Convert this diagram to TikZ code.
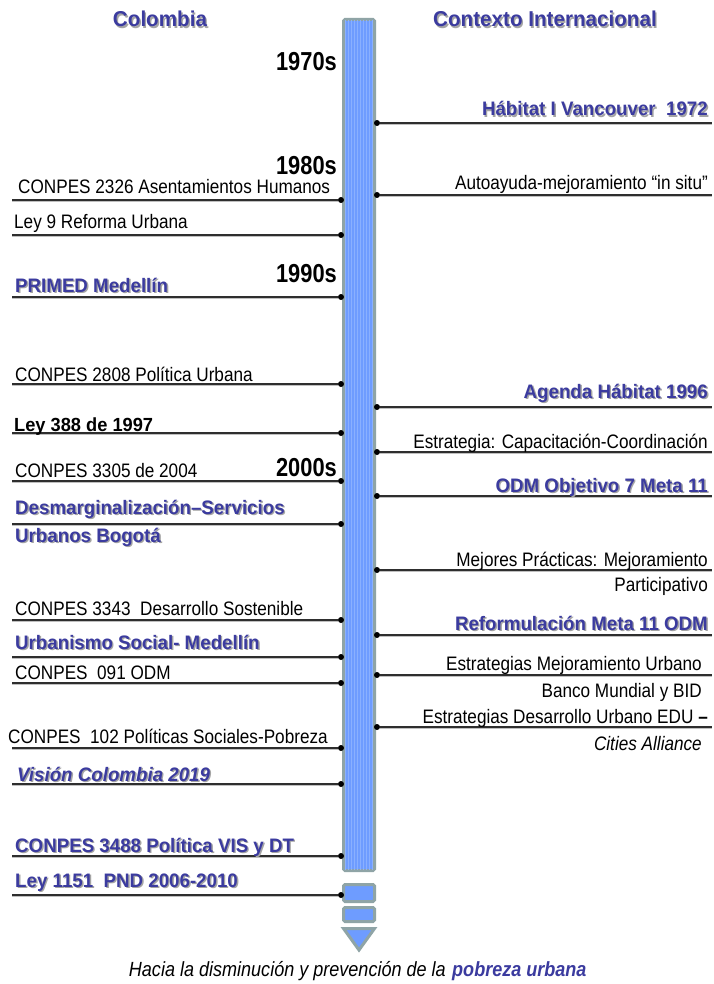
\documentclass[tikz,border=0pt]{standalone}
\usepackage{fontspec}
\setmainfont{Liberation Sans}[FakeStretch=0.88]
\newfontfamily\headfont{Liberation Sans}[FakeStretch=0.96]
\newfontfamily\decfont{Liberation Sans}[FakeStretch=0.84]
\usepackage{xcolor}
\usepackage{tikz}
\usetikzlibrary{arrows.meta, positioning}
\definecolor{colpurple}{HTML}{3B3B9F}
\definecolor{shadowgray}{HTML}{A4A4A4}
\definecolor{barblue}{HTML}{6E9CFF}
\definecolor{bargrid}{HTML}{8AB0FF}
\definecolor{barrim}{HTML}{8FA4A6}
\definecolor{linegray}{HTML}{2E2E2E}
\newcommand{\shad}[1]{\makebox[0pt][l]{\raisebox{-1.4pt}{\hspace{1.4pt}\textcolor{shadowgray}{#1}}}#1}

\begin{document}
\begin{tikzpicture}[x=1pt, y=-1pt,
      ltxt/.style={anchor=base west, inner sep=0pt, font=\fontsize{19.5}{22}\selectfont},
      rtxt/.style={anchor=base east, inner sep=0pt, font=\fontsize{19.5}{22}\selectfont},
      hl/.style={font=\headfont\bfseries\fontsize{19.5}{22}\selectfont, text=colpurple},
      decade/.style={anchor=base east, inner sep=0pt, font=\decfont\bfseries\fontsize{26}{28}\selectfont},
      headline/.style={anchor=base, inner sep=0pt, text=colpurple,
                       font=\headfont\bfseries\fontsize{21.5}{24}\selectfont},
      tdot/.style={circle, fill=black, inner sep=0pt, minimum size=6pt},
      lnk/.style={draw=linegray, line width=1.3pt,
                  preaction={draw=shadowgray!70, line width=1.3pt, transform canvas={yshift=-1.6pt}}},
      barpart/.style={draw=barrim, line width=3pt, fill=barblue, rounded corners=1.5pt}
    ]
      \fill[white] (0,0) rectangle (713,984);
      \useasboundingbox (0,0) rectangle (713,984);

      % column titles
      \node[headline] (coltitle) at (160,27) {\shad{Colombia}};
      \node[headline] (inttitle) at (545,27) {\shad{Contexto Internacional}};

      % timeline bar
      \draw[barpart] (343.5,19.5) rectangle (374.5,870.5);
      \begin{scope}
        \clip (345,21) rectangle (373,869);
        \draw[bargrid, line width=0.3pt, step=3] (342,18) grid (376,872);
      \end{scope}
      \draw[barpart] (343.5,884.5) rectangle (374.5,901.5);
      \draw[barpart] (343.5,907.5) rectangle (374.5,921.5);
      \draw[barpart, rounded corners=0pt] (343.5,928.5) -- (374.5,928.5) -- (359,950) -- cycle;

      % decades
      \node[decade] (d70) at (337,71) {1970s};
      \node[decade] (d80) at (337,175) {1980s};
      \node[decade] (d90) at (337,282) {1990s};
      \node[decade] (d00) at (337,476) {2000s};

      % Colombia
      \coordinate (col1s) at (12,200);  \node[tdot] (col1) at (341,200) {};
      \coordinate (col2s) at (12,235);  \node[tdot] (col2) at (341,235) {};
      \coordinate (col3s) at (12,297);  \node[tdot] (col3) at (341,297) {};
      \coordinate (col4s) at (12,384);  \node[tdot] (col4) at (341,384) {};
      \coordinate (col5s) at (12,433);  \node[tdot] (col5) at (341,433) {};
      \coordinate (col6s) at (12,481);  \node[tdot] (col6) at (341,481) {};
      \coordinate (col7s) at (12,524);  \node[tdot] (col7) at (341,524) {};
      \coordinate (col8s) at (12,620);  \node[tdot] (col8) at (341,620) {};
      \coordinate (col9s) at (12,657);  \node[tdot] (col9) at (341,657) {};
      \coordinate (col10s) at (12,683); \node[tdot] (col10) at (341,683) {};
      \coordinate (col11s) at (12,748); \node[tdot] (col11) at (341,748) {};
      \coordinate (col12s) at (12,784); \node[tdot] (col12) at (341,784) {};
      \coordinate (col13s) at (12,856); \node[tdot] (col13) at (341,856) {};
      \coordinate (col14s) at (12,895); \node[tdot] (col14) at (341,895) {};
      \foreach \i in {1,...,14}
        \draw[lnk] (col\i s) -- (col\i);

      \node[ltxt] (col1t) at (18,194) {CONPES 2326 Asentamientos Humanos};
      \node[ltxt] (col2t) at (14,229) {Ley 9 Reforma Urbana};
      \node[ltxt, hl] (col3t) at (15,292) {\shad{PRIMED Medellín}};
      \node[ltxt] (col4t) at (15,381) {CONPES 2808 Política Urbana};
      \node[ltxt, font=\headfont\bfseries\fontsize{19}{22}\selectfont] (col5t) at (14,431) {Ley 388 de 1997};
      \node[ltxt] (col6t) at (15,477) {CONPES 3305 de 2004};
      \node[ltxt, hl] (col7t) at (15,514) {\shad{Desmarginalización–Servicios}};
      \node[ltxt, hl] (col7u) at (15,542) {\shad{Urbanos Bogotá}};
      \node[ltxt] (col8t) at (15,615) {CONPES 3343 \ Desarrollo Sostenible};
      \node[ltxt, hl] (col9t) at (15,649) {\shad{Urbanismo Social- Medellín}};
      \node[ltxt] (col10t) at (15,679) {CONPES \ 091 ODM};
      \node[ltxt] (col11t) at (8,743) {CONPES \ 102 Políticas Sociales-Pobreza};
      \node[ltxt, hl] (col12t) at (17,781) {\itshape\shad{Visión Colombia 2019}};
      \node[ltxt, hl] (col13t) at (15,852) {\shad{CONPES 3488 Política VIS y DT}};
      \node[ltxt, hl] (col14t) at (15,887) {\shad{Ley 1151 \ PND 2006-2010}};

      % Contexto Internacional
      \node[tdot] (int1) at (377,123) {}; \coordinate (int1e) at (712,123);
      \node[tdot] (int2) at (377,195) {}; \coordinate (int2e) at (712,195);
      \node[tdot] (int3) at (377,407) {}; \coordinate (int3e) at (712,407);
      \node[tdot] (int4) at (377,452) {}; \coordinate (int4e) at (712,452);
      \node[tdot] (int5) at (377,496) {}; \coordinate (int5e) at (712,496);
      \node[tdot] (int6) at (377,570) {}; \coordinate (int6e) at (712,570);
      \node[tdot] (int7) at (377,635) {}; \coordinate (int7e) at (712,635);
      \node[tdot] (int8) at (377,675) {}; \coordinate (int8e) at (712,675);
      \node[tdot] (int9) at (377,727) {}; \coordinate (int9e) at (712,727);
      \foreach \i in {1,...,9}
        \draw[lnk] (int\i) -- (int\i e);

      \node[rtxt, hl] (int1t) at (708,116) {\shad{Hábitat I Vancouver \ 1972}};
      \node[rtxt] (int2t) at (708,190) {Autoayuda-mejoramiento “in situ”};
      \node[rtxt, hl] (int3t) at (708,398) {\shad{Agenda Hábitat 1996}};
      \node[rtxt] (int4t) at (708,448) {Estrategia: Capacitación-Coordinación};
      \node[rtxt, hl] (int5t) at (708,492) {\shad{ODM Objetivo 7 Meta 11}};
      \node[rtxt] (int6t) at (708,566) {Mejores Prácticas: Mejoramiento};
      \node[rtxt] (int6u) at (708,591) {Participativo};
      \node[rtxt, hl] (int7t) at (708,630) {\shad{Reformulación Meta 11 ODM}};
      \node[rtxt] (int8t) at (702,670) {Estrategias Mejoramiento Urbano};
      \node[rtxt] (int8u) at (702,697) {Banco Mundial y BID};
      \node[rtxt] (int9t) at (708,723) {Estrategias Desarrollo Urbano EDU \textbf{–}};
      \node[rtxt] (int9u) at (702,750) {\itshape Cities Alliance};

      % closing line
      \node[anchor=base east, inner sep=0pt, font=\itshape\fontsize{20.5}{24}\selectfont] (goal) at (446,976)
        {Hacia la disminución y prevención de la};
      \node[anchor=base west, inner sep=0pt, text=colpurple, font=\itshape\bfseries\fontsize{20.5}{24}\selectfont,
            xshift=6pt] (goalhl) at (goal.base east) {pobreza urbana};
    \end{tikzpicture}
\end{document}
